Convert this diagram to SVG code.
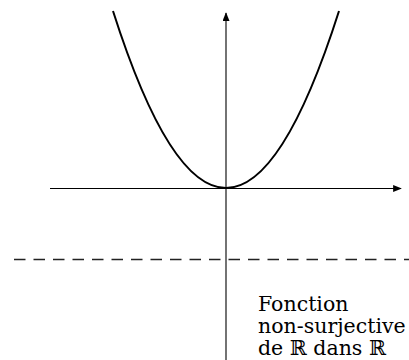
<svg xmlns="http://www.w3.org/2000/svg" width="409" height="360" viewBox="0 0 409 360">
<style>
.axis{stroke:#000;stroke-width:1.1;fill:none}
.curve{stroke:#000;stroke-width:2;fill:none}
.dash{stroke:#222;stroke-width:1.3;stroke-dasharray:11.5 8;fill:none}
.lbl{font-family:"DejaVu Serif","Liberation Serif",serif;font-size:20.5px;fill:#000}
</style>
<defs>
<marker id="arr" viewBox="0 0 10 8" refX="9" refY="4" markerWidth="9" markerHeight="7" markerUnits="userSpaceOnUse" orient="auto">
<path d="M0,0 L10,4 L0,8 z" fill="#000"/>
</marker>
</defs>
<g id="connectors">
<line class="axis" x1="50" y1="188.5" x2="401" y2="188.5" marker-end="url(#arr)"/>
<line class="axis" x1="226" y1="360" x2="226" y2="13" marker-end="url(#arr)"/>
<line class="dash" x1="14" y1="259.5" x2="409" y2="259.5"/>
</g>
<g id="parabola">
<path class="curve" d="M113,11 Q226,365 339,11"/>
</g>
<g id="label">
<text class="lbl" x="258" y="311">Fonction</text>
<text class="lbl" x="258" y="333">non-surjective</text>
<text class="lbl" x="258" y="355">de ℝ dans ℝ</text>
</g>
</svg>
